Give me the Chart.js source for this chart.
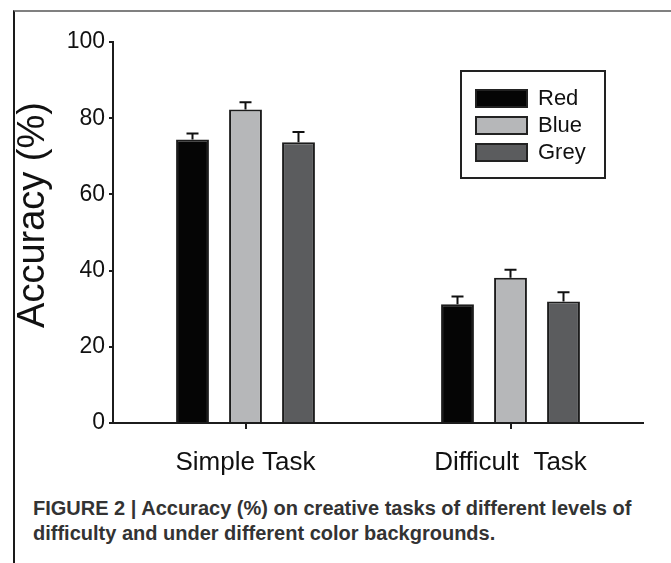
<!DOCTYPE html>
<html>
<head>
<meta charset="utf-8">
<script src="https://cdn.jsdelivr.net/npm/chart.js@4.4.1/dist/chart.umd.min.js"></script>
<style>
  html, body { margin: 0; padding: 0; background: #fff; }
  body { width: 671px; height: 563px; position: relative; overflow: hidden; }
  #frame { position: absolute; left: 13px; top: 10px; right: 0; bottom: 0;
           border-left: 2px solid #1a1a1a; border-top: 2px solid #808080; }
  #wrap { position: absolute; left: 0; top: 0; width: 671px; height: 490px; }
  #caption { position: absolute; left: 33px; top: 496px; width: 634px;
             font-family: "Liberation Sans Narrow", "Liberation Sans", Arial, sans-serif;
             font-weight: bold; font-size: 20px; line-height: 25px; color: #333; }
</style>
</head>
<body>
<div id="frame"></div>
<div id="wrap"><canvas id="accChart" width="671" height="490"></canvas></div>
<div id="caption">FIGURE 2 | Accuracy (%) on creative tasks of different levels of difficulty and under different color backgrounds.</div>
<script>
// Data
const categories = ['Simple Task', 'Difficult  Task'];
const seriesNames = ['Red', 'Blue', 'Grey'];
const redValues = [74.4, 31.2];
const blueValues = [82.3, 38.1];
const greyValues = [73.7, 31.9];
const redErrors = [1.6, 2.0];
const blueErrors = [1.9, 2.1];
const greyErrors = [2.7, 2.4];
const yTickValues = [0, 20, 40, 60, 80, 100];

const fillColors = ['#050505', '#b6b7b9', '#5b5c5e'];
const fontFamily = '"Liberation Sans", Arial, sans-serif';

// Draws the upward error bars with caps
const errorBars = {
    id: 'errorBars',
    afterDatasetsDraw(chart) {
        const ctx = chart.ctx;
        const y = chart.scales.y;
        ctx.save();
        ctx.strokeStyle = '#111';
        ctx.lineWidth = 2;
        chart.data.datasets.forEach((ds, i) => {
            const meta = chart.getDatasetMeta(i);
            meta.data.forEach((bar, j) => {
                const top = y.getPixelForValue(ds.data[j] + ds.errors[j]);
                ctx.beginPath();
                ctx.moveTo(bar.x, bar.y);
                ctx.lineTo(bar.x, top);
                ctx.moveTo(bar.x - 6, top);
                ctx.lineTo(bar.x + 6, top);
                ctx.stroke();
            });
        });
        ctx.restore();
    }
};

// Boxed legend in the upper right plus the rotated axis title
const boxLegend = {
    id: 'boxLegend',
    afterDraw(chart) {
        const ctx = chart.ctx;
        ctx.save();
        ctx.strokeStyle = '#222';
        ctx.lineWidth = 2;
        ctx.strokeRect(461, 71, 144, 107);

        ctx.font = '22px ' + fontFamily;
        ctx.textBaseline = 'middle';
        chart.data.datasets.forEach((ds, i) => {
            const rowY = 98 + i * 27;
            ctx.fillStyle = ds.backgroundColor;
            ctx.fillRect(476, rowY - 8, 51, 17);
            ctx.strokeStyle = '#222';
            ctx.lineWidth = 2;
            ctx.strokeRect(476, rowY - 8, 51, 17);
            ctx.fillStyle = '#111';
            ctx.fillText(ds.label, 538, rowY + 1);
        });

        ctx.translate(34, 215);
        ctx.rotate(-Math.PI / 2);
        ctx.textAlign = 'center';
        ctx.font = '38px ' + fontFamily;
        ctx.fillStyle = '#111';
        ctx.fillText('Accuracy (%)', 0, 0);
        ctx.restore();
    }
};

const ctx = document.getElementById('accChart').getContext('2d');
new Chart(ctx, {
    type: 'bar',
    data: {
        labels: categories,
        datasets: [
            { label: seriesNames[0], data: redValues, errors: redErrors, backgroundColor: fillColors[0] },
            { label: seriesNames[1], data: blueValues, errors: blueErrors, backgroundColor: fillColors[1] },
            { label: seriesNames[2], data: greyValues, errors: greyErrors, backgroundColor: fillColors[2] }
        ].map(ds => Object.assign(ds, {
            borderColor: '#1c1c1c',
            borderWidth: 2,
            categoryPercentage: 0.6,
            barPercentage: 0.62
        }))
    },
    options: {
        responsive: false,
        animation: false,
        layout: { padding: { top: 42, right: 28, left: 0, bottom: 0 } },
        plugins: {
            legend: { display: false },
            tooltip: { enabled: false }
        },
        scales: {
            x: {
                offset: true,
                grid: { offset: false, drawOnChartArea: false, drawTicks: true, tickLength: 6, color: '#1c1c1c', lineWidth: 2 },
                border: { display: true, color: '#1c1c1c', width: 2 },
                ticks: { color: '#111', padding: 18, font: { family: fontFamily, size: 26 } },
                afterFit(scale) { scale.height = 67; }
            },
            y: {
                min: 0,
                max: 100,
                afterBuildTicks(scale) { scale.ticks = yTickValues.map(v => ({ value: v })); },
                grid: { drawOnChartArea: false, drawTicks: true, tickLength: 4, color: '#1c1c1c', lineWidth: 2 },
                border: { display: true, color: '#1c1c1c', width: 2 },
                ticks: { color: '#111', padding: 4, font: { family: fontFamily, size: 23 } },
                afterFit(scale) { scale.width = 113; }
            }
        }
    },
    plugins: [errorBars, boxLegend]
});
</script>
</body>
</html>
